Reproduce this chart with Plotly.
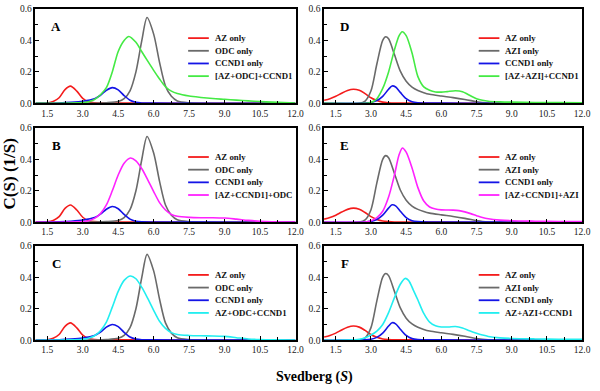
import plotly.graph_objects as go

# ---------------- data (Svedberg S, c(s)) ----------------
# left column shared single-component curves
az_l_x = [1.0, 1.5, 1.75, 2.0, 2.25, 2.48, 2.75, 3.0, 3.25, 3.5, 4.0, 5.0, 6.0, 8.0, 12.0]
az_l_y = [0.001, 0.003, 0.012, 0.036, 0.088, 0.11, 0.078, 0.032, 0.01, 0.004, 0.002, 0.002, 0.001, 0.0, 0.0]

odc_x = [1.0, 3.5, 4.0, 4.5, 4.75, 5.0, 5.25, 5.5, 5.72, 6.0, 6.25, 6.5, 6.75, 7.0, 7.5, 8.0, 12.0]
odc_y = [0.0, 0.001, 0.004, 0.012, 0.03, 0.08, 0.2, 0.4, 0.545, 0.44, 0.26, 0.11, 0.045, 0.016, 0.004, 0.001, 0.0]

ccnd1_l_x = [1.0, 2.0, 2.5, 3.0, 3.5, 3.75, 4.0, 4.25, 4.5, 4.75, 5.0, 5.25, 5.5, 6.0, 8.0, 12.0]
ccnd1_l_y = [0.0, 0.003, 0.007, 0.014, 0.03, 0.052, 0.083, 0.1, 0.086, 0.05, 0.02, 0.007, 0.003, 0.002, 0.001, 0.0]

# right column shared single-component curves
az_r_x = [1.0, 1.25, 1.5, 1.75, 2.0, 2.25, 2.5, 2.75, 3.0, 3.25, 3.5, 3.75, 4.0, 5.0, 6.0, 8.0, 12.0]
az_r_y = [0.02, 0.03, 0.045, 0.065, 0.082, 0.09, 0.083, 0.062, 0.036, 0.018, 0.008, 0.004, 0.002, 0.002, 0.001, 0.0, 0.0]

azi_x = [1.0, 2.5, 2.75, 3.0, 3.25, 3.5, 3.63, 3.75, 4.0, 4.25, 4.5, 4.75, 5.0, 5.25, 5.5, 6.0, 6.5, 7.0, 7.5, 7.75, 8.0, 12.0]
azi_y = [0.0, 0.001, 0.015, 0.08, 0.25, 0.4, 0.423, 0.41, 0.31, 0.205, 0.14, 0.103, 0.082, 0.068, 0.058, 0.047, 0.037, 0.025, 0.011, 0.005, 0.002, 0.0]

ccnd1_r_x = [1.0, 2.75, 3.0, 3.25, 3.5, 3.75, 3.9, 4.05, 4.25, 4.5, 4.75, 5.0, 5.5, 6.0, 8.0, 12.0]
ccnd1_r_y = [0.0, 0.002, 0.006, 0.018, 0.045, 0.09, 0.111, 0.104, 0.07, 0.03, 0.01, 0.004, 0.002, 0.002, 0.001, 0.0]

# mixtures
mix_a_x = [1.0, 2.5, 3.0, 3.25, 3.5, 3.75, 4.0, 4.25, 4.5, 4.75, 4.95, 5.25, 5.5, 5.75, 6.0, 6.25, 6.5, 6.75, 7.0, 7.5, 8.0, 8.5, 9.0, 9.5, 10.0, 10.5, 11.0, 11.5, 12.0]
mix_a_y = [0.0, 0.002, 0.005, 0.01, 0.025, 0.055, 0.1, 0.2, 0.33, 0.4, 0.425, 0.388, 0.328, 0.268, 0.21, 0.155, 0.106, 0.078, 0.063, 0.047, 0.038, 0.031, 0.026, 0.021, 0.016, 0.012, 0.008, 0.005, 0.003]

mix_b_x = [1.0, 2.5, 3.0, 3.25, 3.5, 3.75, 4.0, 4.25, 4.5, 4.75, 5.02, 5.25, 5.5, 5.75, 6.0, 6.25, 6.5, 6.75, 7.0, 7.5, 8.0, 8.5, 9.0, 9.5, 10.0, 10.5, 11.0, 12.0]
mix_b_y = [0.0, 0.002, 0.005, 0.01, 0.025, 0.055, 0.11, 0.2, 0.3, 0.375, 0.408, 0.39, 0.34, 0.27, 0.195, 0.125, 0.078, 0.05, 0.038, 0.031, 0.029, 0.029, 0.027, 0.02, 0.012, 0.006, 0.003, 0.002]

mix_c_x = [1.0, 2.5, 3.0, 3.25, 3.5, 3.75, 4.0, 4.25, 4.5, 4.75, 5.02, 5.25, 5.5, 5.75, 6.0, 6.25, 6.5, 6.75, 7.0, 7.5, 8.0, 8.5, 9.0, 9.5, 10.0, 10.5, 11.0, 12.0]
mix_c_y = [0.0, 0.002, 0.006, 0.012, 0.028, 0.06, 0.115, 0.21, 0.31, 0.38, 0.408, 0.39, 0.335, 0.265, 0.19, 0.12, 0.075, 0.048, 0.036, 0.03, 0.028, 0.027, 0.024, 0.016, 0.008, 0.004, 0.002, 0.001]

mix_d_x = [1.0, 2.75, 3.0, 3.25, 3.5, 3.75, 4.0, 4.2, 4.33, 4.5, 4.75, 5.0, 5.25, 5.5, 5.75, 6.0, 6.25, 6.6, 6.9, 7.1, 7.3, 7.5, 7.75, 8.0, 8.5, 9.0, 10.0, 11.0, 12.0]
mix_d_y = [0.0, 0.001, 0.006, 0.03, 0.095, 0.2, 0.34, 0.43, 0.455, 0.43, 0.32, 0.17, 0.105, 0.083, 0.073, 0.072, 0.075, 0.08, 0.074, 0.06, 0.044, 0.03, 0.02, 0.014, 0.01, 0.008, 0.006, 0.005, 0.004]

mix_e_x = [1.0, 2.75, 3.0, 3.25, 3.5, 3.75, 4.0, 4.2, 4.34, 4.5, 4.75, 5.0, 5.25, 5.5, 5.75, 6.0, 6.5, 6.75, 7.0, 7.25, 7.5, 7.75, 8.0, 8.5, 9.0, 10.0, 11.0, 12.0]
mix_e_y = [0.0, 0.002, 0.01, 0.03, 0.07, 0.16, 0.3, 0.43, 0.472, 0.445, 0.345, 0.22, 0.135, 0.097, 0.084, 0.079, 0.077, 0.074, 0.066, 0.055, 0.042, 0.03, 0.022, 0.014, 0.01, 0.007, 0.005, 0.004]

mix_f_x = [1.0, 2.0, 2.5, 2.75, 3.0, 3.25, 3.5, 3.75, 4.0, 4.25, 4.45, 4.6, 4.8, 5.0, 5.25, 5.5, 5.75, 6.0, 6.3, 6.6, 6.9, 7.2, 7.5, 7.75, 8.0, 8.5, 9.0, 10.0, 11.0, 12.0]
mix_f_y = [0.0, 0.001, 0.006, 0.016, 0.033, 0.058, 0.1, 0.175, 0.27, 0.355, 0.392, 0.38, 0.32, 0.255, 0.17, 0.115, 0.092, 0.084, 0.084, 0.087, 0.078, 0.06, 0.044, 0.033, 0.024, 0.015, 0.011, 0.008, 0.006, 0.005]

panel_letters = ["A", "D", "B", "E", "C", "F"]
x_ticks = [1.5, 3.0, 4.5, 6.0, 7.5, 9.0, 10.5, 12.0]
y_ticks = [0.0, 0.2, 0.4, 0.6]

RED, GREY, BLUE = "#f41c1c", "#6a6a6a", "#1414e6"
GREEN, MAGENTA, CYAN = "#44ea44", "#ff22ff", "#22eef0"

left_common = [("AZ only", az_l_x, az_l_y, RED), ("ODC only", odc_x, odc_y, GREY),
               ("CCND1 only", ccnd1_l_x, ccnd1_l_y, BLUE)]
right_common = [("AZ only", az_r_x, az_r_y, RED), ("AZI only", azi_x, azi_y, GREY),
                ("CCND1 only", ccnd1_r_x, ccnd1_r_y, BLUE)]

panels = [
    left_common + [("[AZ+ODC]+CCND1", mix_a_x, mix_a_y, GREEN)],
    right_common + [("[AZ+AZI]+CCND1", mix_d_x, mix_d_y, GREEN)],
    left_common + [("[AZ+CCND1]+ODC", mix_b_x, mix_b_y, MAGENTA)],
    right_common + [("[AZ+CCND1]+AZI", mix_e_x, mix_e_y, MAGENTA)],
    left_common + [("AZ+ODC+CCND1", mix_c_x, mix_c_y, CYAN)],
    right_common + [("AZ+AZI+CCND1", mix_f_x, mix_f_y, CYAN)],
]

# ---------------- layout geometry (pixels) ----------------
W, H = 600, 391
col_px = [(36, 300), (329, 591)]
row_px = [(4, 101), (126, 223), (247, 344)]

def px_x(p):
    return p / W

def px_y(p):
    return 1 - p / H

fig = go.Figure()
SERIF = "Liberation Serif"
shapes, annotations = [], []

for i, series in enumerate(panels):
    r, c = divmod(i, 2)
    n = i + 1
    xa = "x" if n == 1 else f"x{n}"
    ya = "y" if n == 1 else f"y{n}"
    for name, xs, ys, col in series:
        fig.add_trace(go.Scatter(x=xs, y=ys, mode="lines", name=name, showlegend=False,
                                 line=dict(color=col, width=1.6, shape="spline", smoothing=0.8),
                                 xaxis=xa, yaxis=ya, hoverinfo="skip"))
    x0, x1 = col_px[c]
    y0, y1 = row_px[r]
    axkey = "xaxis" if n == 1 else f"xaxis{n}"
    aykey = "yaxis" if n == 1 else f"yaxis{n}"
    fig.update_layout(**{
        axkey: dict(domain=[px_x(x0), px_x(x1)], range=[1, 12], anchor=ya,
                    tickvals=x_ticks, ticktext=[f"{v:.1f}" for v in x_ticks],
                    ticks="inside", ticklen=4, tickwidth=1, tickcolor="black",
                    minor=dict(dtick=0.75, tick0=0, ticks="inside", ticklen=3, tickcolor="black", showgrid=False),
                    showline=True, linecolor="black", linewidth=1.5, mirror=True,
                    showgrid=False, zeroline=False,
                    tickfont=dict(family=SERIF, size=9.5, color="#222222")),
        aykey: dict(domain=[px_y(y1), px_y(y0)], range=[0, 0.6], anchor=xa,
                    tickvals=y_ticks, ticktext=[f"{v:.1f}" for v in y_ticks],
                    ticks="inside", ticklen=4, tickwidth=1, tickcolor="black",
                    minor=dict(dtick=0.1, tick0=0, ticks="inside", ticklen=3, tickcolor="black", showgrid=False),
                    showline=True, linecolor="black", linewidth=1.5, mirror=True,
                    showgrid=False, zeroline=False,
                    tickfont=dict(family=SERIF, size=9.5, color="#222222")),
    })
    # panel letter
    annotations.append(dict(text=f"<b>{panel_letters[i]}</b>", x=px_x(x0 + 21), y=px_y(y0 + 18),
                            xref="paper", yref="paper", xanchor="center", yanchor="middle",
                            showarrow=False, font=dict(family=SERIF, size=13, color="black")))
    # legend
    lx0 = x0 + (155 if c == 0 else 157)
    for k, (name, xs, ys, col) in enumerate(series):
        yy = y0 + 30 + k * 13
        shapes.append(dict(type="line", xref="paper", yref="paper",
                           x0=px_x(lx0), x1=px_x(lx0 + 21), y0=px_y(yy), y1=px_y(yy),
                           line=dict(color=col, width=1.8)))
        annotations.append(dict(text=f"<b>{name}</b>", x=px_x(lx0 + 25), y=px_y(yy),
                                xref="paper", yref="paper", xanchor="left", yanchor="middle",
                                showarrow=False, font=dict(family=SERIF, size=8.8, color="#111111")))

annotations.append(dict(text="<b>C(S) (1/S)</b>", x=px_x(10), y=px_y(173), xref="paper", yref="paper",
                        textangle=-90, showarrow=False, xanchor="center", yanchor="middle",
                        font=dict(family=SERIF, size=17, color="black")))
annotations.append(dict(text="<b>Svedberg (<i>S</i>)</b>", x=px_x(319), y=px_y(382), xref="paper", yref="paper",
                        showarrow=False, xanchor="center", yanchor="middle",
                        font=dict(family=SERIF, size=14, color="black")))

fig.update_layout(width=W, height=H, autosize=False, margin=dict(l=0, r=0, t=0, b=0),
                  paper_bgcolor="white", plot_bgcolor="white", showlegend=False,
                  shapes=shapes, annotations=annotations)

fig.write_html("out.html", config={"displayModeBar": False},
               post_script="document.body.style.margin='0';document.body.style.overflow='hidden';")
